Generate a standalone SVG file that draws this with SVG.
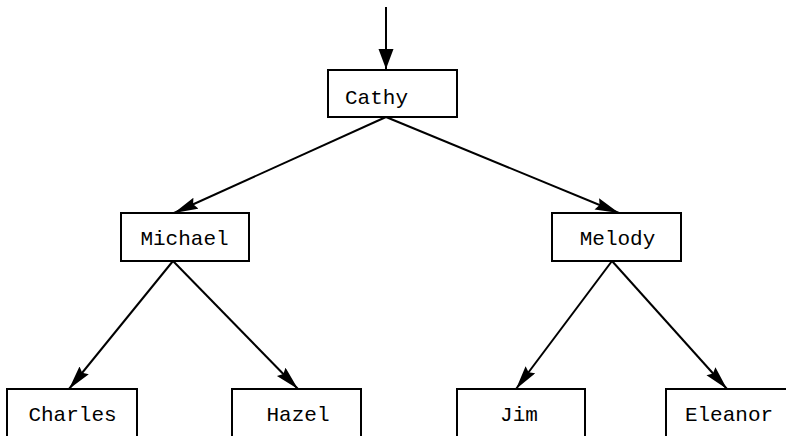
<svg xmlns="http://www.w3.org/2000/svg" width="786" height="436" viewBox="0 0 786 436">
<defs>
<style>
.box{fill:#fff;stroke:#000;stroke-width:2}
.lbl{font-family:"Liberation Mono","Courier New",monospace;font-size:21px;fill:#000;text-anchor:middle}
.edge{fill:none;stroke:#000;stroke-width:2}
</style>
<marker id="ah" markerUnits="userSpaceOnUse" markerWidth="22" markerHeight="16" refX="20" refY="7.5" orient="auto">
<path d="M0,0 L20,7.5 L0,15 Z" fill="#000"/>
</marker>
<marker id="ah2" markerUnits="userSpaceOnUse" markerWidth="26" markerHeight="14" refX="24" refY="6" orient="auto">
<path d="M0,0 L24,6 L0,12 L3,6 Z" fill="#000"/>
</marker>
</defs>
<rect width="786" height="436" fill="#fff"/>
<g id="edges">
<path class="edge" d="M386,7 L386,69" marker-end="url(#ah)"/>
<path class="edge" d="M386,117 L174,213" marker-end="url(#ah2)"/>
<path class="edge" d="M386,117 L619,213" marker-end="url(#ah2)"/>
<path class="edge" d="M173,261 L69,389" marker-end="url(#ah2)"/>
<path class="edge" d="M173,261 L298,389" marker-end="url(#ah2)"/>
<path class="edge" d="M612,261 L516,389" marker-end="url(#ah2)"/>
<path class="edge" d="M612,261 L727,389" marker-end="url(#ah2)"/>
</g>
<g id="cathy"><rect class="box" x="328" y="70" width="129" height="47"/><text class="lbl" x="376.5" y="104">Cathy</text></g>
<g id="michael"><rect class="box" x="121" y="213" width="128" height="48"/><text class="lbl" x="184.5" y="245">Michael</text></g>
<g id="melody"><rect class="box" x="552" y="213" width="129" height="48"/><text class="lbl" x="617.5" y="245">Melody</text></g>
<g id="charles"><rect class="box" x="7" y="389" width="130" height="50"/><text class="lbl" x="72.5" y="421">Charles</text></g>
<g id="hazel"><rect class="box" x="232" y="389" width="129" height="50"/><text class="lbl" x="298" y="421">Hazel</text></g>
<g id="jim"><rect class="box" x="457" y="389" width="128" height="50"/><text class="lbl" x="519" y="421">Jim</text></g>
<g id="eleanor"><rect class="box" x="666" y="389" width="129" height="50"/><text class="lbl" x="729" y="421">Eleanor</text></g>
</svg>
